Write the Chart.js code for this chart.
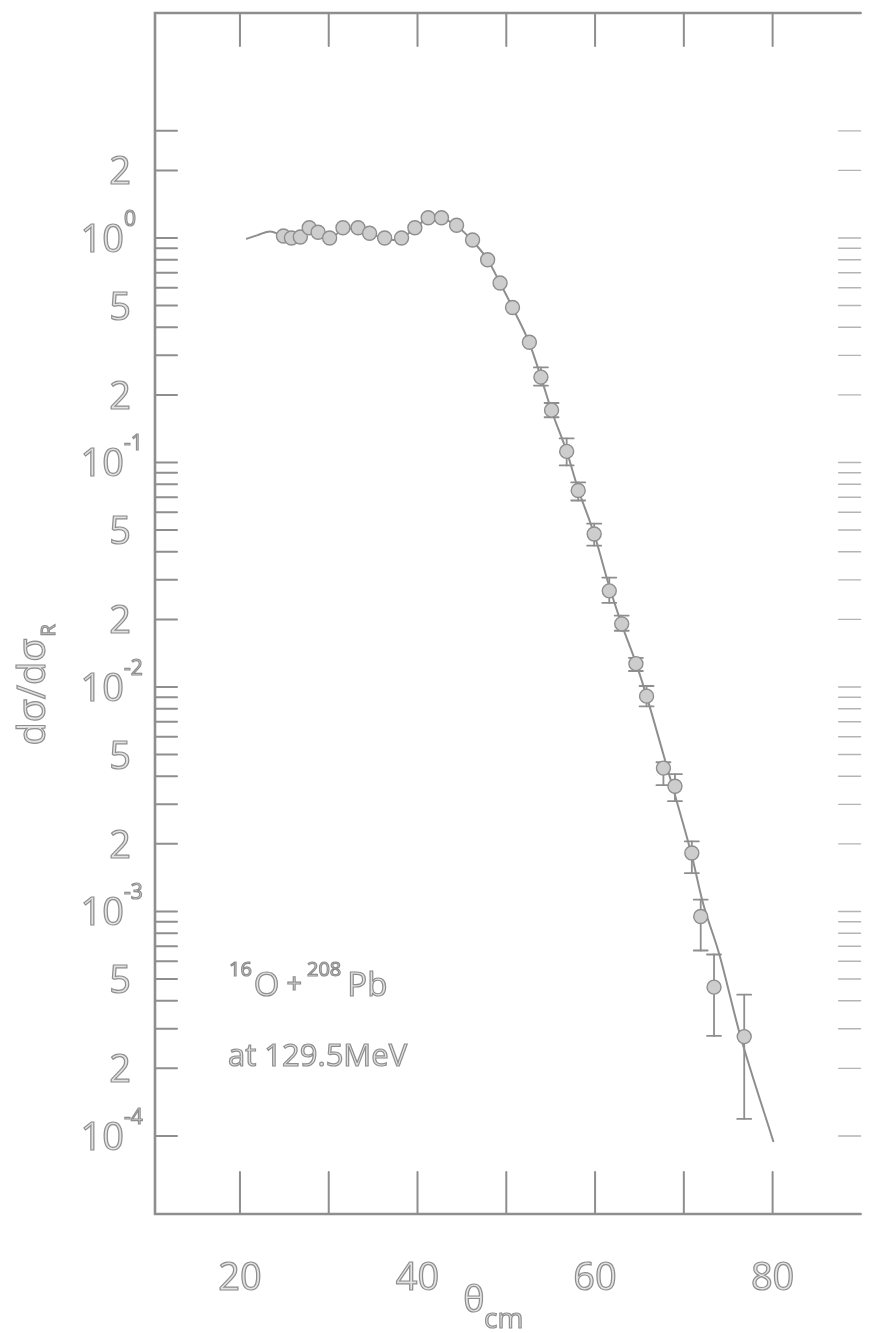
<!DOCTYPE html>
<html>
<head>
<meta charset="utf-8">
<script src="https://cdn.jsdelivr.net/npm/chart.js@4.4.1/dist/chart.umd.min.js"></script>
<style>
  html, body { margin: 0; padding: 0; background: #fff; }
  #caixa { width: 869px; height: 1333px; }
</style>
</head>
<body>
<div id="caixa"><canvas id="grafico"></canvas></div>
<script>
// Dados medidos: angulo no centro de massa (graus) e razao d(sigma)/d(sigma_R)
const thetaCm = [24.9, 25.8, 26.8, 27.8, 28.8, 30.1, 31.6, 33.3, 34.6, 36.3, 38.2, 39.7,
  41.2, 42.7, 44.4, 46.2, 47.9, 49.3, 50.7, 52.6, 53.9, 55.1, 56.8, 58.1, 59.9, 61.6,
  63.0, 64.6, 65.8, 67.7, 69.0, 70.9, 71.9, 73.4, 76.8];
const razao = [1.02, 1.00, 1.01, 1.11, 1.06, 1.00, 1.11, 1.11, 1.05, 1.00, 1.00, 1.11,
  1.23, 1.23, 1.14, 0.98, 0.80, 0.63, 0.49, 0.343, 0.24, 0.171, 0.112, 0.075, 0.048, 0.0268,
  0.0191, 0.0127, 0.0091, 0.00435, 0.00361, 0.00182, 0.00095, 0.00046, 0.000277];
// barras de erro (limite de cima / de baixo), null = sem barra
const razaoAlta = [null, null, null, null, null, null, null, null, null, null, null, null,
  null, null, null, null, null, null, null, null, 0.265, 0.184, 0.128, 0.0815, 0.0534, 0.0307,
  0.0208, 0.01347, 0.0101, 0.00462, 0.00409, 0.00205, 0.00113, 0.000643, 0.000426];
const razaoBaixa = [null, null, null, null, null, null, null, null, null, null, null, null,
  null, null, null, null, null, null, null, null, 0.220, 0.159, 0.097, 0.0677, 0.0426, 0.0237,
  0.0178, 0.01178, 0.0082, 0.00365, 0.0031, 0.00148, 0.00067, 0.000279, 0.000119];

// curva calculada
const curvaTheta = [20.7, 22.0, 23.4, 24.6, 25.8, 26.8, 27.8, 28.8, 30.1, 31.0, 31.6, 33.3,
  34.6, 36.3, 37.3, 38.2, 39.7, 41.2, 42.7, 44.4, 46.2, 47.9, 49.3, 50.7, 52.6, 53.9, 55.1,
  56.8, 58.1, 59.9, 61.6, 63.0, 64.6, 65.8, 67.7, 69.0, 70.9, 72.1, 74.0, 76.3, 80.1];
const curvaRazao = [0.99, 1.03, 1.07, 1.03, 0.99, 1.00, 1.09, 1.06, 0.99, 1.05, 1.10, 1.10,
  1.05, 0.99, 0.98, 1.00, 1.10, 1.22, 1.22, 1.13, 0.97, 0.80, 0.63, 0.49, 0.34, 0.24, 0.17,
  0.112, 0.076, 0.048, 0.028, 0.019, 0.0128, 0.0091, 0.0050, 0.0033, 0.00177, 0.00111,
  0.000643, 0.000285, 0.000094];

// eixos
const marcasX = [20, 30, 40, 50, 60, 70, 80];
const rotulosX = [20, 40, 60, 80];
const decadas = [0.0001, 0.001, 0.01, 0.1];
const mantissas = [1, 2, 3, 4, 5, 6, 7, 8, 9];
const marcasTopo = [1, 2, 3];
const rotulosY = [2, 1, 0.5, 0.2, 0.1, 0.05, 0.02, 0.01, 0.005, 0.002, 0.001, 0.0005, 0.0002, 0.0001];

const tinta = '#8e8e8e';
const tintaFraca = '#b4b4b4';
const miolo = '#e2e2e2';
const fonte = '"Open Sans", "DejaVu Sans", sans-serif';

const marcasY = [];
decadas.forEach(d => mantissas.forEach(m => marcasY.push(m * d)));
marcasTopo.forEach(v => marcasY.push(v));

function traco(ctx, x1, y1, x2, y2) {
  ctx.beginPath();
  ctx.moveTo(x1, y1);
  ctx.lineTo(x2, y2);
  ctx.stroke();
}

// letras vazadas, como no normografo
function letreiro(ctx, txt, x, y, tam, alinh) {
  ctx.font = tam + 'px ' + fonte;
  ctx.textAlign = alinh || 'left';
  ctx.textBaseline = 'alphabetic';
  ctx.fillStyle = miolo;
  ctx.fillText(txt, x, y);
  ctx.lineWidth = 1.2;
  ctx.strokeStyle = tinta;
  ctx.strokeText(txt, x, y);
  return ctx.measureText(txt).width;
}

const moldura = {
  id: 'moldura',
  beforeDatasetsDraw(chart) {
    const { ctx, chartArea: a, scales: { x, y } } = chart;
    ctx.save();
    ctx.strokeStyle = tinta;
    ctx.lineCap = 'round';
    ctx.lineWidth = 2.6;
    ctx.beginPath();
    ctx.moveTo(a.right, a.top);
    ctx.lineTo(a.left, a.top);
    ctx.lineTo(a.left, a.bottom);
    ctx.lineTo(a.right, a.bottom);
    ctx.stroke();

    // marcas do eixo y: esquerda cheia, direita mais fraca
    marcasY.forEach(v => {
      const py = y.getPixelForValue(v);
      ctx.lineWidth = 2;
      ctx.strokeStyle = tinta;
      traco(ctx, a.left, py, a.left + 22, py);
      ctx.lineWidth = 1.4;
      ctx.strokeStyle = tintaFraca;
      traco(ctx, a.right - 22, py, a.right, py);
    });
    ctx.lineWidth = 2;
    ctx.strokeStyle = tinta;
    marcasX.forEach(v => {
      const px = x.getPixelForValue(v);
      traco(ctx, px, a.bottom, px, a.bottom - 42);
      traco(ctx, px, a.top, px, a.top + 33);
    });

    // barras de erro
    ctx.lineWidth = 1.8;
    thetaCm.forEach((t, i) => {
      if (razaoAlta[i] == null) return;
      const px = x.getPixelForValue(t);
      const y1 = y.getPixelForValue(razaoAlta[i]);
      const y2 = y.getPixelForValue(razaoBaixa[i]);
      traco(ctx, px, y1, px, y2);
      traco(ctx, px - 7, y1, px + 7, y1);
      traco(ctx, px - 7, y2, px + 7, y2);
    });
    ctx.restore();
  },
  afterDraw(chart) {
    const { ctx, chartArea: a, scales: { x, y } } = chart;
    ctx.save();

    rotulosX.forEach(v => {
      letreiro(ctx, String(v), x.getPixelForValue(v), a.bottom + 76, 38, 'center');
    });

    rotulosY.forEach(v => {
      const py = y.getPixelForValue(v);
      const expoente = Math.floor(Math.log10(v) + 1e-9);
      const mant = Math.round(v / Math.pow(10, expoente));
      if (mant === 1) {
        letreiro(ctx, '10', 124, py + 14, 38, 'right');
        letreiro(ctx, String(expoente), 124, py - 12, 21, 'left');
      } else {
        letreiro(ctx, String(mant), 131, py + 14, 38, 'right');
      }
    });

    // titulo do eixo x
    letreiro(ctx, 'θ', 474, a.bottom + 98, 36, 'center');
    letreiro(ctx, 'cm', 484, a.bottom + 114, 28, 'left');

    // titulo do eixo y, na vertical
    ctx.save();
    ctx.translate(45, 684);
    ctx.rotate(-Math.PI / 2);
    ctx.font = '38px ' + fonte;
    const w = ctx.measureText('dσ/dσ').width;
    letreiro(ctx, 'dσ/dσ', -w / 2 - 8, 0, 38, 'left');
    letreiro(ctx, 'R', w / 2 - 6, 10, 20, 'left');
    ctx.restore();

    // reacao e energia
    let cx = 229;
    cx += letreiro(ctx, '16', cx, 976, 20) + 2;
    cx += letreiro(ctx, 'O', cx, 996, 33) + 7;
    cx += letreiro(ctx, '+', cx, 993, 27) + 5;
    cx += letreiro(ctx, '208', cx, 976, 20) + 6;
    letreiro(ctx, 'Pb', cx, 996, 33);
    letreiro(ctx, 'at 129.5MeV', 228, 1066, 31);

    ctx.restore();
  }
};

const ctx = document.getElementById('grafico').getContext('2d');
const grafico = new Chart(ctx, {
  data: {
    datasets: [
      {
        type: 'line',
        data: curvaTheta.map((t, i) => ({ x: t, y: curvaRazao[i] })),
        borderColor: tinta,
        borderWidth: 2,
        pointRadius: 0,
        cubicInterpolationMode: 'monotone',
        order: 2
      },
      {
        type: 'scatter',
        data: thetaCm.map((t, i) => ({ x: t, y: razao[i] })),
        pointRadius: 7,
        backgroundColor: '#cdcdcd',
        borderColor: tinta,
        borderWidth: 1.4,
        order: 1
      }
    ]
  },
  options: {
    responsive: true,
    maintainAspectRatio: false,
    animation: false,
    layout: { padding: { left: 155, top: 13, right: 0, bottom: 119 } },
    plugins: { legend: { display: false }, tooltip: { enabled: false } },
    scales: {
      x: { type: 'linear', min: 10.43, max: 89.91, display: false },
      y: { type: 'logarithmic', min: 4.49e-5, max: 10.05, display: false }
    }
  },
  plugins: [moldura]
});
</script>
</body>
</html>
